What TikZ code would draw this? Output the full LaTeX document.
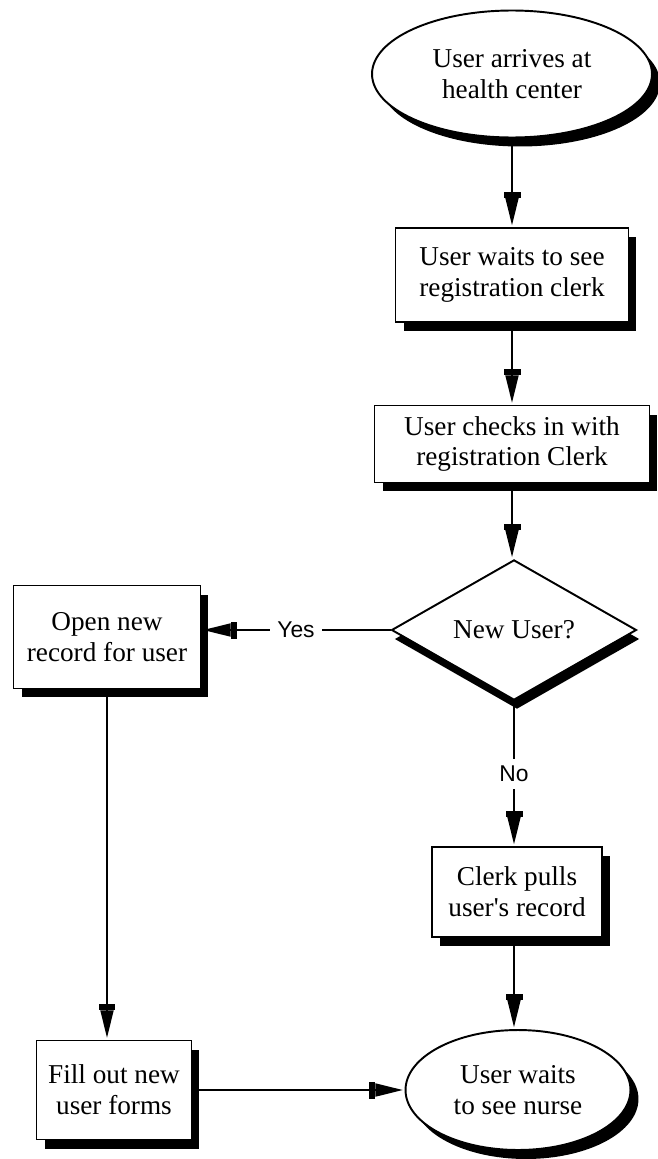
\documentclass[tikz,border=0pt]{standalone}
\usepackage{fontspec}
\setmainfont{Liberation Serif}[Ligatures=TeXOff]
\newfontfamily\labelfont{Liberation Sans}
\usetikzlibrary{shapes.geometric,shadows,arrows.meta}

\begin{document}
\begin{tikzpicture}[x=0.02cm,y=-0.02cm,
every text node part/.style={align=center},
every node/.style={font=\fontsize{15.5}{17.6}\selectfont},
dropped/.style={drop shadow={shadow xshift=.16cm,shadow yshift=-.18cm,fill=black,opacity=1}},
box/.style={draw,line width=1.1pt,fill=white,dropped,inner sep=0pt},
oval/.style={ellipse,draw,line width=1.1pt,fill=white,dropped,inner sep=0pt},
ask/.style={diamond,draw,line width=1.1pt,fill=white,inner sep=0pt,
  drop shadow={shadow xshift=.06cm,shadow yshift=-.18cm,fill=black,opacity=1}},
flow/.style={line width=1.1pt,shorten >=1pt,
  -{Rectangle[length=.12cm,width=.34cm]Triangle[length=.55cm,width=.26cm]}},
tag/.style={fill=white,font=\labelfont\fontsize{13}{15}\selectfont,inner sep=4pt}]

\useasboundingbox(0,0)rectangle(657,1159);

\draw(512,74)node[oval,minimum width=5.6cm,minimum height=2.54cm](arrive){User arrives at\\health center};
\draw(512,275)node[box,minimum width=4.66cm,minimum height=1.88cm](waitclerk){User waits to see\\registration clerk};
\draw(512,444)node[box,minimum width=5.5cm,minimum height=1.54cm](checkin){User checks in with\\registration Clerk};
\draw(514,630)node[ask,minimum width=4.9cm,minimum height=2.4cm](newuser){New User?};
\draw(107,637)node[box,minimum width=3.74cm,minimum height=2.06cm](openrec){Open new\\record for user};
\draw(517,892)node[box,minimum width=3.4cm,minimum height=1.8cm](pull){Clerk pulls\\user's record};
\draw(114,1090)node[box,minimum width=3.1cm,minimum height=1.98cm](forms){Fill out new\\user forms};
\draw(518,1090)node[oval,minimum width=4.5cm,minimum height=2.4cm](nurse){User waits\\to see nurse};

\draw[flow](arrive.south)--(arrive.south|-waitclerk.north);
\draw[flow](waitclerk.south)--(waitclerk.south|-checkin.north);
\draw[flow](checkin.south)--(checkin.south|-newuser.north);
\draw[flow](newuser.west)--node[tag]{Yes}(openrec.east|-newuser.west);
\draw[flow](newuser.south)--node[tag]{No}(pull.north-|newuser.south);
\draw[flow](pull.south-|newuser.south)--(nurse.north-|newuser.south);
\draw[flow](openrec.south)--(openrec.south|-forms.north);
\draw[flow](forms.east|-nurse.west)--(nurse.west);

\end{tikzpicture}
\end{document}
